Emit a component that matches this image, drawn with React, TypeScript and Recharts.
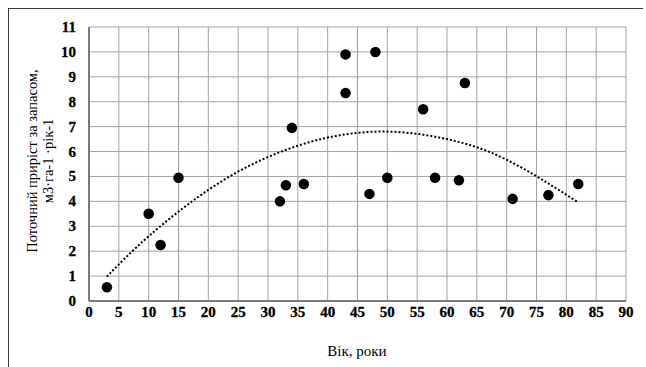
import React from 'react';
import { ComposedChart, Scatter, Line, XAxis, YAxis, ZAxis, CartesianGrid } from 'recharts';

// вік насадження, роки
const ages = [3, 10, 12, 15, 32, 33, 34, 36, 43, 43, 47, 48, 50, 56, 58, 62, 63, 71, 77, 82];
// поточний приріст, м3·га-1·рік-1
const increments = [0.55, 3.5, 2.25, 4.95, 4.0, 4.65, 6.95, 4.7, 9.9, 8.35, 4.3, 10.0, 4.95, 7.7, 4.95, 4.85, 8.75, 4.1, 4.25, 4.7];

// поліноміальна лінія тренду (значення)
const trendAges = [3, 10, 20, 30, 40, 50, 60, 70, 82];
const trendValues = [0.98, 2.6, 4.46, 5.78, 6.56, 6.8, 6.5, 5.67, 3.96];

const xTicks = [0, 5, 10, 15, 20, 25, 30, 35, 40, 45, 50, 55, 60, 65, 70, 75, 80, 85, 90];
const yTicks = [0, 1, 2, 3, 4, 5, 6, 7, 8, 9, 10, 11];

const points = ages.map((age, i) => ({ age, value: increments[i] }));
const trend = trendAges.map((age, i) => ({ age, trend: trendValues[i] }));

const serif = 'Liberation Serif';

const XTick = ({ x, y, payload }: any) => (
  <text x={x} y={y + 5} textAnchor="middle" fontFamily={serif} fontSize={15} fontWeight="bold" fill="#000" stroke="#000" strokeWidth={0.3}>
    {payload.value}
  </text>
);

const YTick = ({ x, y, payload }: any) => (
  <text x={x} y={y + 5} textAnchor="end" fontFamily={serif} fontSize={15} fontWeight="bold" fill="#000" stroke="#000" strokeWidth={0.3}>
    {payload.value}
  </text>
);

const YLabel = () => (
  <text transform="rotate(-90, 40, 161)" x={40} y={161} textAnchor="middle" fontFamily={serif} fontSize={14.5} fill="#000">
    <tspan x={40} dy={-3}>Поточний приріст за запасом,</tspan>
    <tspan x={40} dy={16}>м3·га-1 ·рік-1</tspan>
  </text>
);

const XLabel = () => (
  <text x={357} y={356} textAnchor="middle" fontFamily={serif} fontSize={15} fill="#000">
    Вік, роки
  </text>
);

export default function App() {
  return (
    <div style={{ position: 'absolute', left: 0, top: 0, width: 646, height: 367, background: '#fff' }}>
      <div
        style={{
          position: 'absolute',
          left: 8,
          top: 8,
          width: 634,
          height: 358,
          borderTop: '1px solid #3a3a3a',
          borderLeft: '1px solid #3a3a3a',
        }}
      />
      <ComposedChart
        width={646}
        height={367}
        margin={{ top: 27, right: 20, bottom: 0, left: 0 }}
        style={{ position: 'absolute', left: 0, top: 0 }}
      >
        <CartesianGrid stroke="#a3a3a3" strokeWidth={1} />
        <XAxis
          dataKey="age"
          type="number"
          domain={[0, 90]}
          ticks={xTicks}
          interval={0}
          height={66}
          tickLine={false}
          tickMargin={5}
          axisLine={{ stroke: '#7a7a7a', strokeWidth: 2 }}
          tick={XTick}
          label={<XLabel />}
        />
        <YAxis
          type="number"
          domain={[0, 11]}
          ticks={yTicks}
          interval={0}
          width={89}
          tickLine={false}
          tickMargin={7}
          axisLine={{ stroke: '#7a7a7a', strokeWidth: 2 }}
          tick={YTick}
          label={<YLabel />}
        />
        <ZAxis range={[87, 87]} />
        <Line
          data={trend}
          dataKey="trend"
          type="natural"
          stroke="#000"
          strokeWidth={2}
          strokeDasharray="2 2"
          dot={false}
          activeDot={false}
          isAnimationActive={false}
        />
        <Scatter data={points} dataKey="value" fill="#000" shape="circle" isAnimationActive={false} />
      </ComposedChart>
    </div>
  );
}
